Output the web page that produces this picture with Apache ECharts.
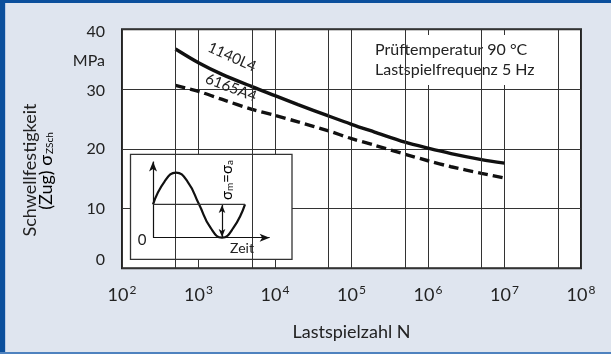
<!DOCTYPE html>
<html>
<head>
<meta charset="utf-8">
<script src="https://cdn.jsdelivr.net/npm/echarts@6/dist/echarts.min.js"></script>
<style>html,body{margin:0;padding:0;background:#dfe5ef}#c{width:611px;height:354px}</style>
</head>
<body>
<div id="c"></div>
<script>
// ---- data ----
const cycles  = [5e2, 1e3, 2e3, 5e3, 1e4, 2e4, 5e4, 1e5, 2e5, 5e5, 1e6, 2e6, 5e6, 1e7];
const s1140L4 = [36.7, 34.4, 32.5, 30.4, 28.9, 27.4, 25.5, 24.1, 22.8, 21.1, 20.1, 19.2, 18.2, 17.6];
const s6165A4 = [30.6, 29.6, 28.3, 26.6, 25.6, 24.5, 23.0, 21.7, 20.6, 19.1, 18.0, 17.0, 15.9, 15.1];
const minorGridN = [500, 5e3, 5e4, 5e5, 5e6, 5e7];
const yTicks = [0, 10, 20, 30, 40];
// inset schematic (time in periods, stress in units of sigma_a)
const insetT = [0, 0.125, 0.25, 0.375, 0.5, 0.625, 0.75, 0.875, 1];
const insetS = [1, 1.68, 1.95, 1.68, 1, 0.3, 0, 0.3, 1];
const insetMean = [[0, 1], [1, 1]];

const FONT = 'Lato, "Noto Sans", sans-serif';
const TXT = '#222';

const chart = echarts.init(document.getElementById('c'), null, {renderer: 'canvas'});
const yRich = {
  y0:  {fontSize: 16, fontFamily: FONT, color: TXT, padding: [0, 0, 16, 0]},
  y10: {fontSize: 16, fontFamily: FONT, color: TXT},
  y20: {fontSize: 16, fontFamily: FONT, color: TXT},
  y30: {fontSize: 16, fontFamily: FONT, color: TXT, padding: [4, 0, 0, 0]},
  y40: {fontSize: 16, fontFamily: FONT, color: TXT, padding: [6, 0, 0, 0]}
};
const option = {
  backgroundColor: '#dfe5ef',
  animation: false,
  textStyle: {fontFamily: FONT},
  grid: [
    {left: 122, top: 29.3, width: 459, height: 239, show: true, backgroundColor: '#fff',
     borderColor: '#222', borderWidth: 2, z: 0},
    {left: 130.5, top: 154.3, width: 161.5, height: 105, show: true, backgroundColor: '#fff',
     borderColor: '#333', borderWidth: 1.3, z: 3}
  ],
  xAxis: [
    {type: 'log', logBase: 10, min: 100, max: 1e8, interval: 1, gridIndex: 0,
     axisLine: {show: false}, axisTick: {show: false},
     splitLine: {show: true, lineStyle: {color: '#333', width: 1}},
     axisLabel: {margin: 16, color: TXT,
       formatter: v => '{b|10}{s|' + Math.round(Math.log10(v)) + '}',
       rich: {b: {fontSize: 18, fontFamily: FONT, color: TXT},
              s: {fontSize: 12, fontFamily: FONT, color: TXT, padding: [0, 0, 9, 1]}}}},
    {type: 'value', gridIndex: 1, min: -0.245, max: 1.511, show: false}
  ],
  yAxis: [
    {type: 'value', min: yTicks[0], max: yTicks[yTicks.length - 1], interval: 10, gridIndex: 0,
     axisLine: {show: false}, axisTick: {show: false},
     splitLine: {show: true, lineStyle: {color: '#333', width: 1}},
     axisLabel: {margin: 17, color: TXT, formatter: v => '{y' + v + '|' + v + '}', rich: yRich}},
    {type: 'value', gridIndex: 1, min: -0.647, max: 2.497, show: false}
  ],
  series: [
    {name: '1140L4', type: 'line', xAxisIndex: 0, yAxisIndex: 0, z: 2,
     data: cycles.map((n, i) => [n, s1140L4[i]]), smooth: 0.3, showSymbol: false,
     lineStyle: {color: '#111', width: 3.4},
     markLine: {silent: true, symbol: 'none', label: {show: false},
       lineStyle: {color: '#333', width: 1, type: 'solid'},
       data: minorGridN.map(v => ({xAxis: v}))}},
    {name: '6165A4', type: 'line', xAxisIndex: 0, yAxisIndex: 0, z: 2,
     data: cycles.map((n, i) => [n, s6165A4[i]]), smooth: 0.3, showSymbol: false,
     lineStyle: {color: '#111', width: 3.4, type: [10, 5]}},
    {name: 'sine', type: 'line', xAxisIndex: 1, yAxisIndex: 1, z: 5,
     data: insetT.map((t, i) => [t, insetS[i]]), smooth: 0.5, showSymbol: false,
     lineStyle: {color: '#111', width: 2.2},
     markLine: {silent: true, label: {show: false}, z: 5,
       lineStyle: {color: '#111', width: 1.2, type: 'solid'},
       data: [
         [{coord: [0, 0], symbol: 'none'}, {coord: [0, 2.28], symbol: 'arrow', symbolSize: [6, 10]}],
         [{coord: [0, 0], symbol: 'none'}, {coord: [1.268, 0], symbol: 'arrow', symbolSize: [6, 10]}],
         [{coord: [0.75, 0.02], symbol: 'arrow', symbolSize: [5, 8]}, {coord: [0.75, 0.98], symbol: 'arrow', symbolSize: [5, 8]}]
       ]}},
    {name: 'mean', type: 'line', xAxisIndex: 1, yAxisIndex: 1, z: 5,
     data: insetMean, showSymbol: false, lineStyle: {color: '#333', width: 1.2}}
  ],
  graphic: [
    {type: 'rect', shape: {x: 0, y: 0, width: 611, height: 3}, style: {fill: '#0b4f9c'}, z: 10},
    {type: 'rect', shape: {x: 0, y: 0, width: 5, height: 354}, style: {fill: '#0b4f9c'}, z: 10},
    {type: 'rect', shape: {x: 5, y: 3, width: 1, height: 351}, style: {fill: '#b9cbe6'}, z: 10},
    {type: 'rect', shape: {x: 0, y: 352, width: 611, height: 2}, style: {fill: '#4f82bf'}, z: 10},
    {type: 'rect', shape: {x: 365, y: 35, width: 210, height: 50}, style: {fill: '#fff'}, z: 3},
    {type: 'text', x: 375, y: 50, z: 4, style: {text: 'Prüftemperatur 90 °C', font: '16px ' + FONT, fill: TXT, verticalAlign: 'middle'}},
    {type: 'text', x: 375, y: 70, z: 4, style: {text: 'Lastspielfrequenz 5 Hz', font: '16px ' + FONT, fill: TXT, verticalAlign: 'middle'}},
    {type: 'text', x: 105, y: 61, z: 4, style: {text: 'MPa', font: '16px ' + FONT, fill: TXT, align: 'right', verticalAlign: 'middle'}},
    {type: 'text', x: 232, y: 57, rotation: -24 * Math.PI / 180, z: 4,
     style: {text: '1140L4', font: '15px ' + FONT, fill: TXT, align: 'center', verticalAlign: 'middle'}},
    {type: 'text', x: 231, y: 87.5, rotation: -21 * Math.PI / 180, z: 4,
     style: {text: '6165A4', font: '15px ' + FONT, fill: TXT, align: 'center', verticalAlign: 'middle'}},
    {type: 'text', x: 351.5, y: 332, z: 4,
     style: {text: 'Lastspielzahl N', font: '18px ' + FONT, fill: TXT, align: 'center', verticalAlign: 'middle'}},
    {type: 'text', x: 30, y: 170, rotation: Math.PI / 2, z: 4,
     style: {text: 'Schwellfestigkeit', font: '18px ' + FONT, fill: TXT, align: 'center', verticalAlign: 'middle'}},
    {type: 'text', x: 46, y: 171, rotation: Math.PI / 2, z: 4,
     style: {text: '{a|(Zug) σ}{b|ZSch}', align: 'center', verticalAlign: 'middle',
       rich: {a: {fontSize: 18, fontFamily: FONT, color: TXT},
              b: {fontSize: 10, fontFamily: FONT, color: TXT, padding: [7, 0, 0, 1]}}}},
    {type: 'text', x: 142, y: 240, z: 6,
     style: {text: '0', font: '15px ' + FONT, fill: TXT, align: 'center', verticalAlign: 'middle'}},
    {type: 'text', x: 242, y: 248, z: 6,
     style: {text: 'Zeit', font: '14px ' + FONT, fill: TXT, align: 'center', verticalAlign: 'middle'}},
    {type: 'text', x: 227, y: 180, rotation: Math.PI / 2, z: 6,
     style: {text: '{g|σ}{s|m}{g|=σ}{s|a}', align: 'center', verticalAlign: 'middle',
       rich: {g: {fontSize: 15, fontFamily: FONT, color: TXT},
              s: {fontSize: 10, fontFamily: FONT, color: TXT, padding: [6, 0, 0, 0]}}}}
  ]
};
chart.setOption(option);
</script>
</body>
</html>
